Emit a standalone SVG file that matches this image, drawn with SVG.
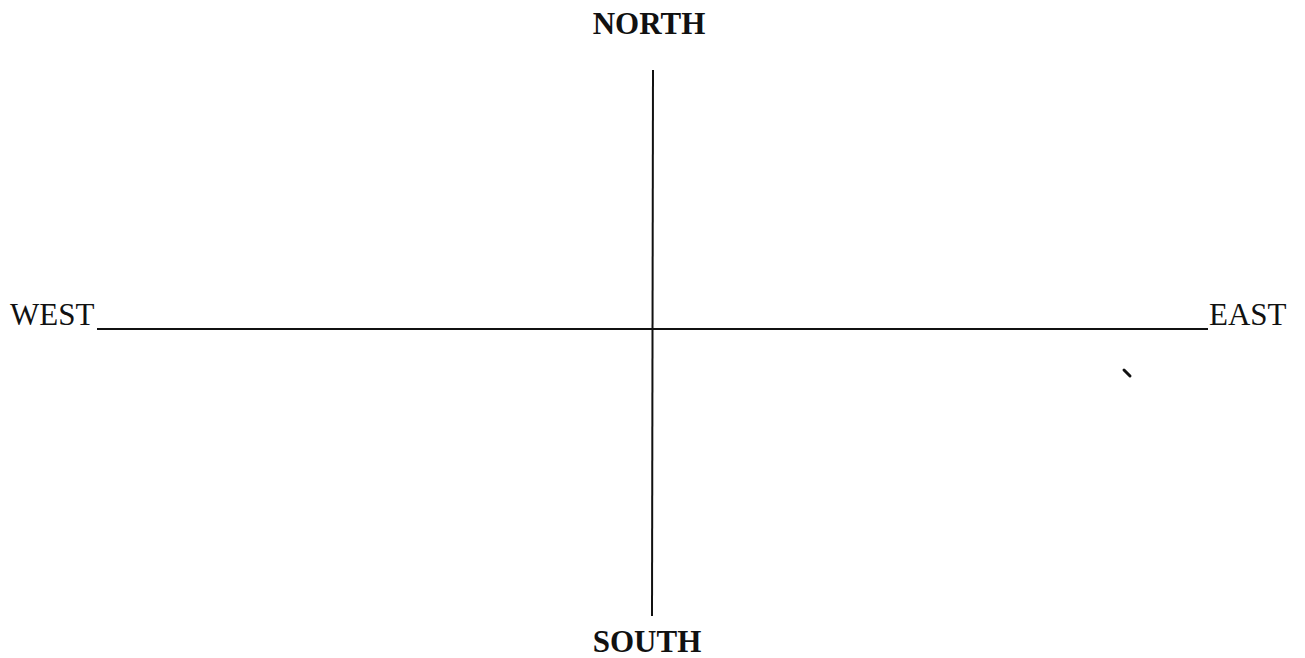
<svg xmlns="http://www.w3.org/2000/svg" width="1305" height="658" viewBox="0 0 1305 658">
<style>
.lbl{font-family:"Liberation Serif","Times New Roman",serif;font-size:31px;fill:#111}
.b{font-weight:bold}
.ax{stroke:#111;stroke-width:2;fill:none}
</style>
<rect width="1305" height="658" fill="#fff"/>
<g id="connectors">
<line class="ax" x1="97" y1="329" x2="1208" y2="329"/>
<line class="ax" x1="653" y1="70" x2="652" y2="616"/>
</g>
<g id="north"><text class="lbl b" x="649" y="34" text-anchor="middle">NORTH</text></g>
<g id="south"><text class="lbl b" x="647" y="652" text-anchor="middle">SOUTH</text></g>
<g id="west"><text class="lbl" x="10" y="325">WEST</text></g>
<g id="east"><text class="lbl" x="1209" y="325">EAST</text></g>
<path d="M1124 370 L1130 376" stroke="#111" stroke-width="3" stroke-linecap="round"/>
</svg>
